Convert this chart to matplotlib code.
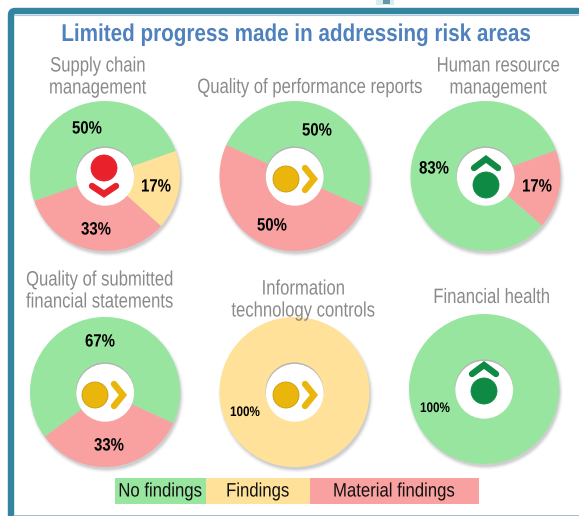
import matplotlib
matplotlib.use('Agg')
import matplotlib.pyplot as plt
from matplotlib.patches import Circle, Rectangle, FancyBboxPatch
from matplotlib.patheffects import AbstractPathEffect
from matplotlib.transforms import Affine2D

W, H = 579, 516

# --- data ---
titles = ['Supply chain\nmanagement', 'Quality of performance reports', 'Human resource\nmanagement',
          'Quality of submitted\nfinancial statements', 'Information\ntechnology controls', 'Financial health']
no_findings = [50, 50, 83, 67, 0, 100]
material = [33, 50, 17, 33, 0, 0]
findings = [17, 0, 0, 0, 100, 0]
ratings = ['red', 'amber', 'green', 'amber', 'amber', 'green']
legend_labels = ['No findings', 'Findings', 'Material findings']
heading = 'Limited progress made in addressing risk areas'

# --- layout (pixels from top left) ---
centers = [(105, 176), (294.5, 176), (485.5, 176), (105, 392), (294.5, 392), (484, 389)]
starts = [19.5, -24.5, 20, -24.6, 90, 90]
title_pos = [(98, 77), (310, 87.5), (498.5, 77), (100, 291), (303.5, 300), (492, 297.5)]
label_pos = [[(87, 129), (96, 230), (156, 187)], [(317, 131), (272, 226), None], [(434, 169), (537, 187), None],
             [(100, 342), (109, 446), None], [None, None, (245, 412)], [(435, 408), None, None]]
icon_at = [(105, 176), (296, 176), (486, 176), (105, 392), (296, 392), (484, 382)]
legend_x = [115, 206, 310, 479]

GREEN, YELLOW, PINK = '#98e5a0', '#ffe199', '#f9a0a0'
TEAL = '#33849f'
FONT = 'Liberation Sans'
ICON = {'red': '#e8212a', 'amber': '#ebb60c', 'green': '#0f8a45'}


def Y(py):
    return H - py


class Squeeze(AbstractPathEffect):
    # no narrow font here, so squeeze the glyphs sideways around x0
    def __init__(self, x0, sx):
        super().__init__()
        self.x0, self.sx = x0, sx

    def draw_path(self, renderer, gc, tpath, affine, rgbFace=None):
        squeeze = Affine2D().translate(-self.x0, 0).scale(self.sx, 1).translate(self.x0, 0)
        renderer.draw_path(gc, tpath, affine + squeeze, rgbFace)


def narrow_text(ax, x, py, s, sx=0.85, **kw):
    t = ax.text(x, Y(py), s, ha='center', va='center', family=FONT, **kw)
    t.set_path_effects([Squeeze(x, sx)])
    return t


fig = plt.figure(figsize=(W / 100, H / 100), dpi=100)
ax = fig.add_axes([0, 0, 1, 1])

for i, (cx, cy) in enumerate(centers):
    # soft drop shadow
    for grow, a in [(2.5, 0.04), (1.5, 0.06), (0.5, 0.09), (-0.5, 0.12)]:
        ax.add_patch(Circle((cx + 1.5, Y(cy + 3)), 75 + grow, color='#555555', alpha=a, lw=0, zorder=1))
    vals = [no_findings[i], material[i], findings[i]]
    cols = [GREEN, PINK, YELLOW]
    used = [(v, c) for v, c in zip(vals, cols) if v > 0]
    ax.pie([u[0] for u in used], colors=[u[1] for u in used], center=(cx, Y(cy)), radius=75,
           startangle=starts[i], wedgeprops=dict(zorder=2, lw=0))
    # hole with an inner shadow on its top edge
    ax.add_patch(Circle((cx, Y(cy - 0.6)), 29, color='#b4b4b4', lw=0, zorder=3))
    ax.add_patch(Circle((cx + 0.2, Y(cy + 0.8)), 28.9, color='white', lw=0, zorder=4))

    for pos, v in zip(label_pos[i], vals):
        if pos is not None:
            narrow_text(ax, pos[0], pos[1], f'{v}%', sx=0.84, weight='bold',
                        fontsize=10 if v == 100 else 12.8, color='black', zorder=6)

    narrow_text(ax, title_pos[i][0], title_pos[i][1], titles[i], sx=0.8,
                fontsize=15, color='#8a8a8a', linespacing=1.2, zorder=7)

    # rating icon
    ix, iy = icon_at[i]
    col = ICON[ratings[i]]
    if ratings[i] == 'red':
        circ, chev = (-1, -8), [(-13, 10), (-1, 18), (11, 10)]
    elif ratings[i] == 'amber':
        circ, chev = (-10, 3), [(9, -8), (18, 3), (9, 14)]
    else:
        circ, chev = (0, 9), [(-12, -8), (0, -17), (12, -8)]
    ax.add_patch(Circle((ix + circ[0], Y(iy + circ[1])), 13, facecolor=col, edgecolor='#c99a10' if ratings[i] == 'amber' else col,
                        lw=0.6, zorder=5))
    ax.plot([ix + p[0] for p in chev], [Y(iy + p[1]) for p in chev], color=col, lw=4.6,
            solid_capstyle='round', solid_joinstyle='miter', zorder=5)

# legend strip
for x0, x1, c, lab in zip(legend_x[:-1], legend_x[1:], [GREEN, YELLOW, PINK], legend_labels):
    ax.add_patch(Rectangle((x0, Y(504)), x1 - x0, 26, color=c, lw=0, zorder=2))
    narrow_text(ax, (x0 + x1) / 2, 492, lab, sx=0.86, fontsize=14, color='#111111', zorder=3)

# frame
ax.add_patch(FancyBboxPatch((11, Y(560)), 620, 549, boxstyle='round,pad=0,rounding_size=4',
                            fill=False, edgecolor=TEAL, lw=4.6, zorder=8))
ax.plot([14, W], [Y(14.5), Y(14.5)], color='#a9cbd8', lw=0.8, zorder=8)
ax.plot([14, W], [Y(515.5), Y(515.5)], color='#8fb4c4', lw=1.2, zorder=8)
ax.add_patch(Rectangle((376, Y(5)), 18, 5, color='#dcebee', lw=0, zorder=8))
ax.add_patch(Rectangle((383, Y(4)), 7, 4, color='#5f9aa8', lw=0, zorder=9))

narrow_text(ax, 296, 34.5, heading, weight='bold', sx=0.85, fontsize=17.5, color='#4f81bd', zorder=7)

ax.set_xlim(0, W)
ax.set_ylim(0, H)
ax.set_aspect('auto')
ax.axis('off')
fig.savefig('out.png', dpi=100)
